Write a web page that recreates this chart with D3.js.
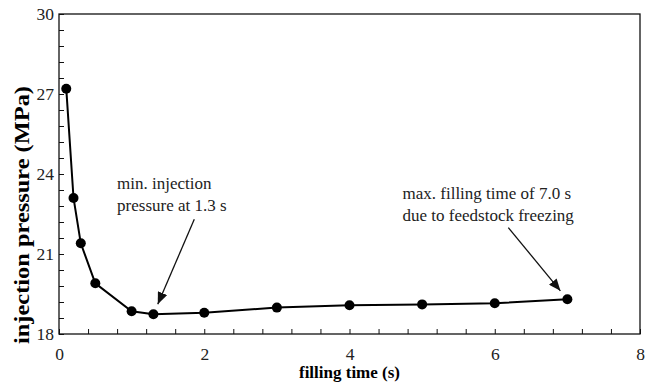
<!DOCTYPE html>
<html>
<head>
<meta charset="utf-8">
<script src="https://cdn.jsdelivr.net/npm/d3@7"></script>
<style>
  html, body { margin: 0; padding: 0; background: #fff; }
  svg { display: block; }
  text { font-family: "Liberation Serif", "Times New Roman", serif; }
</style>
</head>
<body>
<svg id="chart" width="653" height="386"></svg>
<script>
// Filling time (s) and the injection pressure (MPa) measured at each one
const fillingTime = [0.1, 0.2, 0.3, 0.5, 1.0, 1.3, 2, 3, 4, 5, 6, 7];
const injectionPressure = [27.2, 23.1, 21.4, 19.9, 18.85, 18.74, 18.8, 18.99, 19.08, 19.11, 19.15, 19.3];

// Axis tick labels and minor tick spacing
const xTickLabels = [0, 2, 4, 6, 8];
const yTickLabels = [18, 21, 24, 27, 30];
const xMinorStep = 0.4;
const yMinorStep = 0.6;

// Callouts: text lines and the data point each arrow points at
const annotations = [
  { lines: ["min. injection", "pressure at 1.3 s"], target: [1.3, 18.74],
    textAt: [0.8, 23.44], arrowFrom: [1.863, 22.3] },
  { lines: ["max. filling time of 7.0 s", "due to feedstock freezing"], target: [7.0, 19.3],
    textAt: [4.73, 23.06], arrowFrom: [6.187, 21.99] }
];

const W = 653, H = 386;
const margin = { top: 14, right: 13, bottom: 52, left: 59 };
const iw = W - margin.left - margin.right;
const ih = H - margin.top - margin.bottom;

const svg = d3.select("#chart");
svg.append("defs").append("marker")
  .attr("id", "arrowhead")
  .attr("viewBox", "0 0 12 10")
  .attr("refX", 12).attr("refY", 5)
  .attr("markerWidth", 12).attr("markerHeight", 10)
  .attr("markerUnits", "userSpaceOnUse")
  .attr("orient", "auto")
  .append("path").attr("d", "M0,0 L12,5 L0,10 Z").attr("fill", "#111");

const g = svg.append("g").attr("transform", `translate(${margin.left},${margin.top})`);

const x = d3.scaleLinear().domain([xTickLabels[0], xTickLabels[xTickLabels.length - 1]]).range([0, iw]);
const y = d3.scaleLinear().domain([yTickLabels[0], yTickLabels[yTickLabels.length - 1]]).range([ih, 0]);

const near = (v, arr) => arr.some(a => Math.abs(a - v) < 1e-6);
const xTicks = d3.range(x.domain()[0], x.domain()[1] + 1e-6, xMinorStep);
const yTicks = d3.range(y.domain()[0], y.domain()[1] + 1e-6, yMinorStep);

// Bottom axis: inward ticks, labels at the major values only
const xAxis = g.append("g").attr("transform", `translate(0,${ih})`)
  .call(d3.axisBottom(x).tickValues(xTicks).tickSize(-5).tickPadding(14)
    .tickFormat(d => near(d, xTickLabels) ? d3.format("d")(Math.round(d)) : ""));
// Left axis
const yAxis = g.append("g")
  .call(d3.axisLeft(y).tickValues(yTicks).tickSize(-5).tickPadding(5)
    .tickFormat(d => near(d, yTickLabels) ? d3.format("d")(Math.round(d)) : ""));

[xAxis, yAxis].forEach(a => {
  a.attr("font-family", null);
  a.select(".domain").remove();
  a.selectAll(".tick line").attr("stroke", "#111").attr("stroke-width", 1);
  a.selectAll(".tick text").attr("font-size", 17.5).attr("fill", "#222");
});

// Plot frame
g.append("rect").attr("x", 0).attr("y", 0).attr("width", iw).attr("height", ih)
  .attr("fill", "none").attr("stroke", "#111").attr("stroke-width", 1.3);

// Series line and markers
const pts = fillingTime.map((t, i) => [t, injectionPressure[i]]);
g.append("path").datum(pts)
  .attr("fill", "none").attr("stroke", "#000").attr("stroke-width", 2)
  .attr("d", d3.line().x(d => x(d[0])).y(d => y(d[1])));
g.selectAll("circle.pt").data(pts).join("circle")
  .attr("class", "pt")
  .attr("cx", d => x(d[0])).attr("cy", d => y(d[1])).attr("r", 5)
  .attr("fill", "#000");

// Callouts with arrows ending just short of the marker
annotations.forEach(a => {
  const t = g.append("text")
    .attr("x", x(a.textAt[0])).attr("y", y(a.textAt[1]))
    .attr("font-size", 17).attr("fill", "#222");
  a.lines.forEach((s, i) => t.append("tspan")
    .attr("x", x(a.textAt[0])).attr("dy", i === 0 ? 0 : 22).text(s));
  const x1 = x(a.arrowFrom[0]), y1 = y(a.arrowFrom[1]);
  const tx = x(a.target[0]), ty = y(a.target[1]);
  const dx = tx - x1, dy = ty - y1, len = Math.hypot(dx, dy);
  const gap = 11;
  g.append("line")
    .attr("x1", x1).attr("y1", y1)
    .attr("x2", tx - dx / len * gap).attr("y2", ty - dy / len * gap)
    .attr("stroke", "#111").attr("stroke-width", 1.3)
    .attr("marker-end", "url(#arrowhead)");
});

// Axis titles
svg.append("text")
  .attr("x", margin.left + iw / 2).attr("y", 378)
  .attr("text-anchor", "middle").attr("font-size", 17).attr("font-weight", "bold")
  .attr("fill", "#000").text("filling time (s)");
svg.append("text")
  .attr("transform", "translate(29,215) rotate(-90)")
  .attr("text-anchor", "middle").attr("font-size", 21).attr("font-weight", "bold")
  .attr("textLength", 258).attr("lengthAdjust", "spacingAndGlyphs")
  .attr("fill", "#000").text("injection pressure (MPa)");
</script>
</body>
</html>
